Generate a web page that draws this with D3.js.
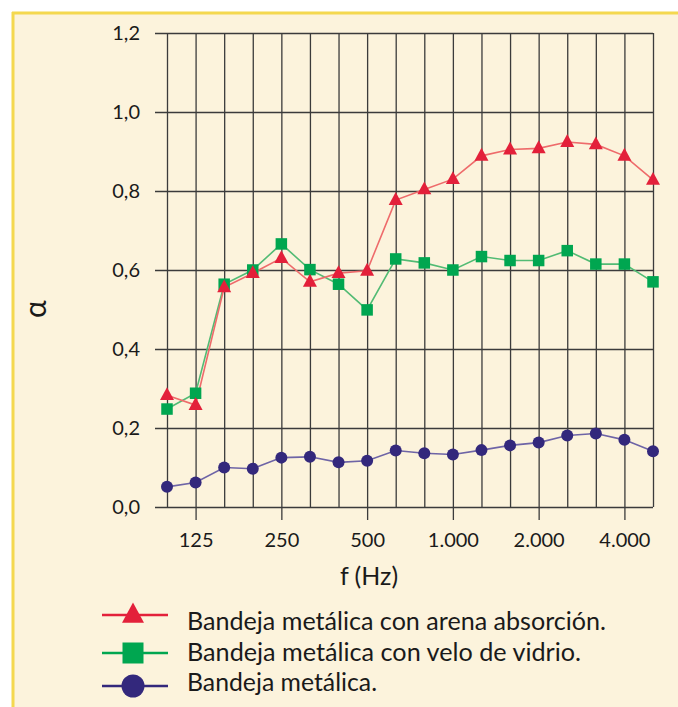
<!DOCTYPE html>
<html><head><meta charset="utf-8">
<script src="https://cdn.jsdelivr.net/npm/d3@7"></script>
<style>body{margin:0;background:#fff}svg{display:block}</style>
</head><body>
<svg id="c" width="678" height="707"></svg>
<script>
const frequencies = ["100","125","160","200","250","315","400","500","630","800","1000","1250","1600","2000","2500","3150","4000","5000"];
const xTickLabels = ["125","250","500","1000","2000","4000"];
const yTicks = [0,0.2,0.4,0.6,0.8,1.0,1.2];
const arenaValues = [0.283,0.258,0.556,0.592,0.630,0.570,0.592,0.598,0.777,0.804,0.830,0.889,0.905,0.908,0.924,0.918,0.889,0.828];
const veloValues = [0.248,0.288,0.564,0.600,0.666,0.601,0.564,0.499,0.628,0.618,0.600,0.634,0.624,0.624,0.649,0.615,0.615,0.570];
const bandejaValues = [0.051,0.062,0.100,0.097,0.125,0.127,0.113,0.117,0.143,0.136,0.133,0.144,0.156,0.163,0.181,0.186,0.170,0.141];
const seriesNames = ["Bandeja metálica con arena absorción.","Bandeja metálica con velo de vidrio.","Bandeja metálica."];

const svg = d3.select("#c");
const font = "Lato, 'Open Sans', sans-serif";

// panel
svg.append("rect").attr("x",12).attr("y",12).attr("width",666).attr("height",695).attr("fill","#fcf3dc");
svg.append("rect").attr("x",12).attr("y",11.5).attr("width",666).attr("height",3).attr("fill","#f4d84f");
svg.append("rect").attr("x",11.5).attr("y",12).attr("width",3).attr("height",695).attr("fill","#f4d84f");

const x = d3.scalePoint().domain(frequencies).range([167,653]).padding(0);
const y = d3.scaleLinear().domain([0,1.2]).range([507,33]);
const gridColor = "#3b3b3b";

// vertical grid
const gx = svg.append("g").attr("transform","translate(0,507)")
  .call(d3.axisBottom(x).tickSize(-(507-33)).tickFormat(""));
gx.select(".domain").remove();
gx.selectAll("line").attr("stroke",gridColor).attr("stroke-width",1.3);

// labeled x ticks
const fmt = d => d.length>3 ? d.slice(0,d.length-3)+"."+d.slice(-3) : d;
const gx2 = svg.append("g").attr("transform","translate(0,507)")
  .call(d3.axisBottom(x).tickValues(xTickLabels).tickSize(13).tickPadding(13).tickFormat(fmt));
gx2.select(".domain").remove();
gx2.selectAll("line").attr("stroke",gridColor).attr("stroke-width",1.3);
gx2.selectAll("text").attr("font-family",font).attr("font-size",20).attr("fill","#1a1a1a");

// horizontal grid + y labels
const gy = svg.append("g").attr("transform","translate(155,0)")
  .call(d3.axisLeft(y).tickValues(yTicks).tickSize(-(653-155)).tickPadding(15)
    .tickFormat(d => d3.format(".1f")(d).replace(".",",")));
gy.select(".domain").remove();
gy.selectAll("line").attr("stroke",gridColor).attr("stroke-width",1.3);
gy.selectAll("text").attr("font-family",font).attr("font-size",20).attr("fill","#1a1a1a");

// axis titles
svg.append("text").attr("x",369).attr("y",585).attr("text-anchor","middle")
  .attr("font-family",font).attr("font-size",25).attr("fill","#1a1a1a").text("f (Hz)");
svg.append("text").attr("transform","translate(46,309) rotate(-90)").attr("text-anchor","middle")
  .attr("font-family",font).attr("font-size",30).attr("fill","#1a1a1a").text("α");

const series = [
  {values: arenaValues, line:"#ee6b6b", fill:"#e3203a", shape:"tri"},
  {values: veloValues, line:"#52bb74", fill:"#00a650", shape:"sq"},
  {values: bandejaValues, line:"#6e64a6", fill:"#33287c", shape:"circ"}
];

function marker(g, shape, color, s){
  if(shape==="tri"){
    const h = s*0.92;
    g.append("path").attr("d",`M0,${-h*0.62}L${s/2},${h*0.38}L${-s/2},${h*0.38}Z`).attr("fill",color);
  } else if(shape==="sq"){
    g.append("rect").attr("x",-s/2).attr("y",-s/2).attr("width",s).attr("height",s).attr("fill",color);
  } else {
    g.append("circle").attr("r",s/2).attr("fill",color);
  }
}

const line = d3.line().x((d,i)=>x(frequencies[i])).y(d=>y(d));
[...series].reverse().forEach(s=>{
  svg.append("path").datum(s.values).attr("d",line).attr("fill","none")
    .attr("stroke",s.line).attr("stroke-width",1.6);
});
[...series].reverse().forEach(s=>{
  const size = s.shape==="tri"?14:(s.shape==="sq"?11.5:12);
  s.values.forEach((v,i)=>{
    const g = svg.append("g").attr("transform",`translate(${x(frequencies[i])},${y(v)})`);
    marker(g,s.shape,s.fill,size);
  });
});

// legend
const legLineY = [615,653,686];
const legTextY = [630,661,691];
const legW = [419,394,190];
series.forEach((s,i)=>{
  const yy = legLineY[i];
  svg.append("line").attr("x1",102).attr("x2",168).attr("y1",yy).attr("y2",yy)
    .attr("stroke",s.fill).attr("stroke-width",2.4);
  const g = svg.append("g").attr("transform",`translate(133,${yy})`);
  marker(g,s.shape,s.fill,s.shape==="tri"?22:(s.shape==="sq"?21:23));
  svg.append("text").attr("x",187).attr("y",legTextY[i]).attr("font-family",font).attr("font-size",24.5)
    .attr("fill","#1a1a1a").attr("textLength",legW[i]).attr("lengthAdjust","spacingAndGlyphs")
    .text(seriesNames[i]);
});
</script>
</body></html>
